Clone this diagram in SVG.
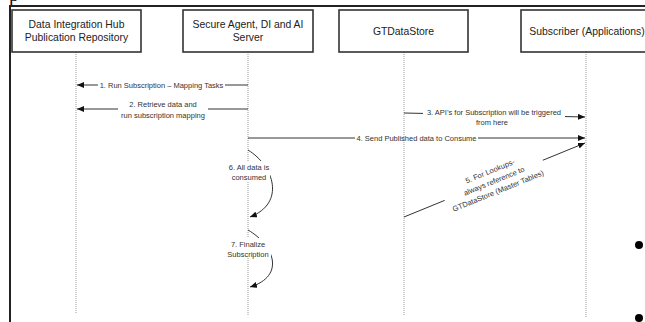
<svg xmlns="http://www.w3.org/2000/svg" width="645" height="322" viewBox="0 0 645 322">
<defs>
<marker id="ah" markerUnits="userSpaceOnUse" markerWidth="8" markerHeight="6" refX="7" refY="3" orient="auto">
<path d="M0,0 L7,3 L0,6 z" fill="#111"/>
</marker>
<style>
.box{fill:#fff;stroke:#333;stroke-width:1.6}
.hd{font-family:"Liberation Sans",Arial,sans-serif;font-size:10.4px;fill:#222;text-anchor:middle}
.life{stroke:#9a9a9a;stroke-width:1;stroke-dasharray:1 1;fill:none}
.msg{stroke:#333;stroke-width:1;fill:none;marker-end:url(#ah)}
.lb{font-family:"Liberation Sans",Arial,sans-serif;font-size:7.5px;fill:#333;text-anchor:middle}
.bg{fill:#fff;stroke:none}
.frame{stroke:#222;stroke-width:2;fill:none}
</style>
</defs>
<rect width="645" height="322" fill="#fff"/>
<text x="9" y="0.5" font-family="Liberation Serif,serif" font-size="20" fill="#111">p</text>
<path class="frame" d="M10,322 V6 H645"/>

<g id="lifelines">
<line class="life" x1="76" y1="52" x2="76" y2="313"/>
<line class="life" x1="248" y1="52" x2="248" y2="315"/>
<line class="life" x1="404" y1="52" x2="404" y2="315"/>
<line class="life" x1="586" y1="52" x2="586" y2="317"/>
</g>

<g id="node-dih">
<rect class="box" x="12" y="10" width="129" height="42"/>
<text class="hd" x="76.5" y="27.5">Data Integration Hub</text>
<text class="hd" x="76.5" y="41">Publication Repository</text>
</g>
<g id="node-agent">
<rect class="box" x="183" y="10" width="130" height="42"/>
<text class="hd" x="248" y="27.5">Secure Agent, DI and AI</text>
<text class="hd" x="248" y="41">Server</text>
</g>
<g id="node-gtds">
<rect class="box" x="339" y="10" width="129" height="42"/>
<text class="hd" x="403.5" y="34.5">GTDataStore</text>
</g>
<g id="node-subscriber">
<rect class="box" x="521" y="10" width="132" height="42"/>
<text class="hd" x="587" y="34.5">Subscriber (Applications)</text>
</g>

<g id="connectors">
<path class="msg" d="M248,85 H225 M98,85 H77"/>
<text class="lb" x="161.5" y="87.7">1. Run Subscription – Mapping Tasks</text>

<line class="msg" x1="248" y1="109" x2="77" y2="109"/>
<rect class="bg" x="118" y="98" width="90" height="22"/>
<text class="lb" x="163" y="106.7">2. Retrieve data and</text>
<text class="lb" x="163" y="117.7">run subscription mapping</text>

<line class="msg" x1="404" y1="113" x2="585" y2="117"/>
<rect class="bg" x="423" y="106" width="142" height="21"/>
<text class="lb" x="494" y="115">3. API’s for Subscription will be triggered</text>
<text class="lb" x="492" y="125">from here</text>

<path class="msg" d="M248,138 H355 M478,138 H585"/>
<text class="lb" x="416.5" y="140.7">4. Send Published data to Consume</text>

<line class="msg" x1="404" y1="217" x2="585" y2="143"/>
<g transform="translate(494,181) rotate(-22.2)">
<rect class="bg" x="-53" y="-16.5" width="106" height="32"/>
<text class="lb" x="0" y="-8">5. For Lookups-</text>
<text class="lb" x="0" y="2.7">always reference to</text>
<text class="lb" x="0" y="13.3">GTDataStore (Master Tables)</text>
</g>

<path class="msg" d="M248,150 C274,166 286,203 250,217"/>
<rect class="bg" x="227" y="161" width="43" height="20"/>
<text class="lb" x="249" y="169.7">6. All data is</text>
<text class="lb" x="249" y="179.7">consumed</text>

<path class="msg" d="M248,230 C274,245 286,276 250,287"/>
<rect class="bg" x="224" y="238" width="47" height="20"/>
<text class="lb" x="248" y="246.7">7. Finalize</text>
<text class="lb" x="248" y="256.7">Subscription</text>
</g>

<circle cx="639" cy="245" r="4" fill="#000"/>
<circle cx="639" cy="318" r="4" fill="#000"/>
</svg>
